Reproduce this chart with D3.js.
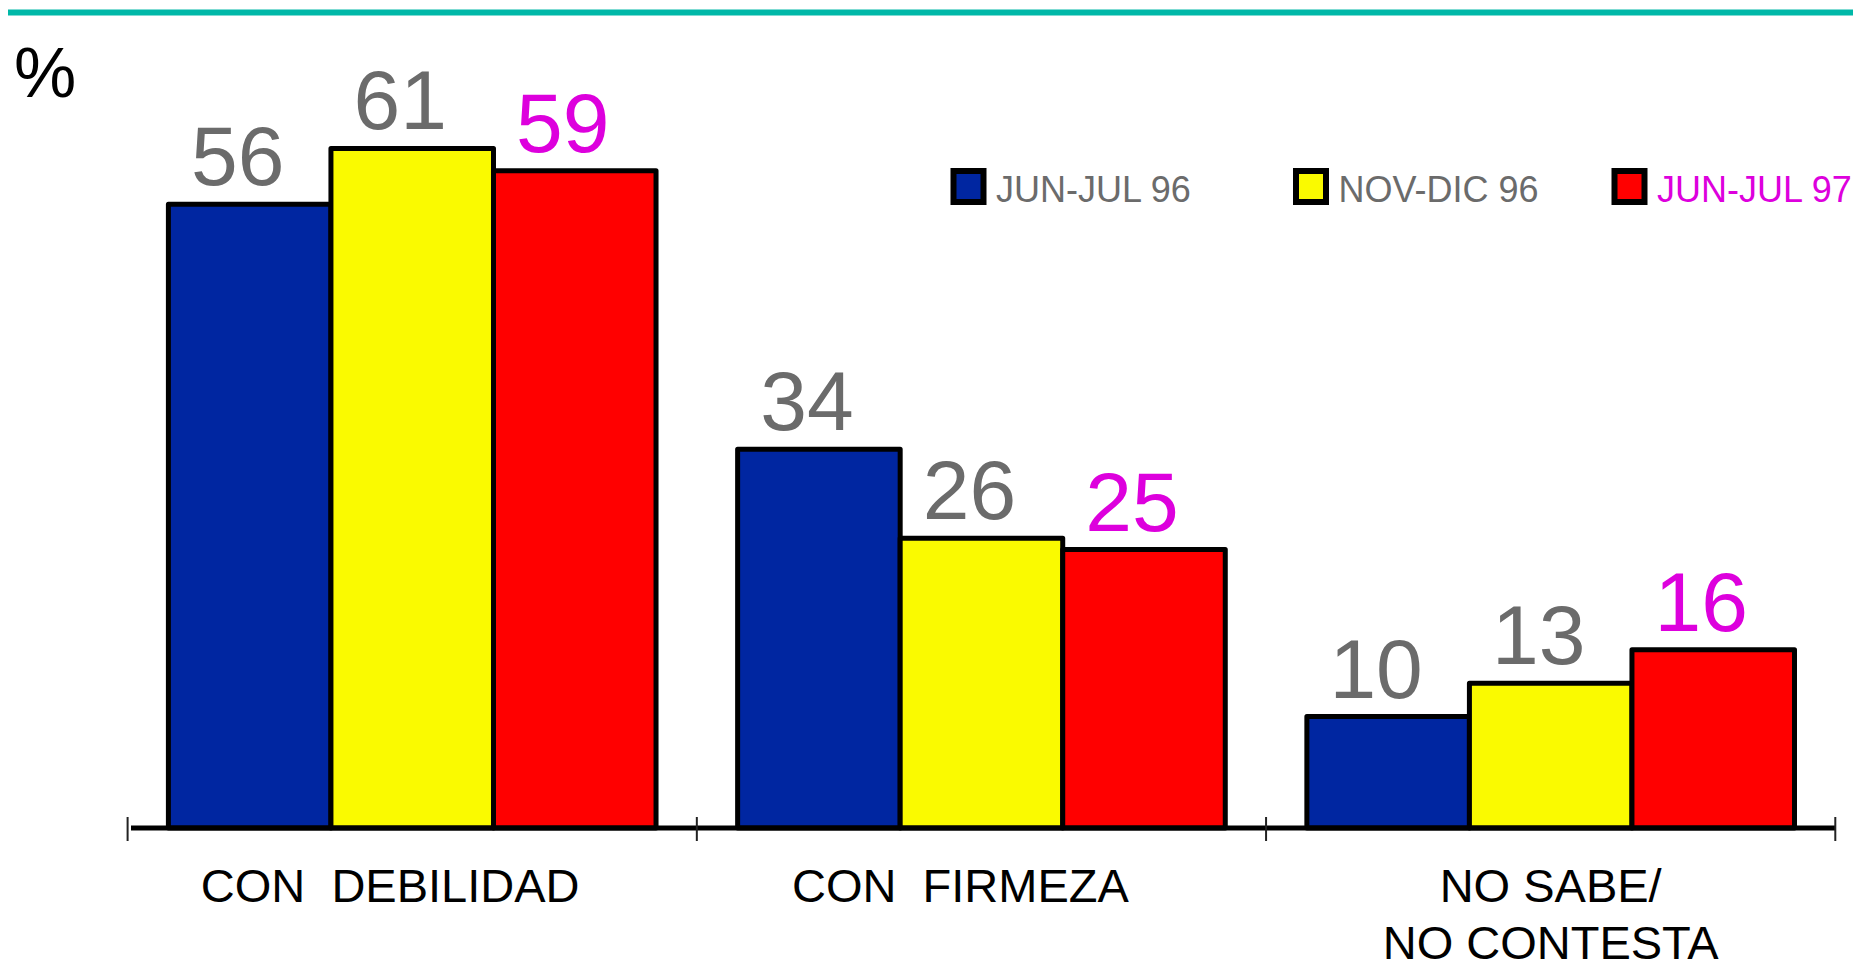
<!DOCTYPE html>
<html>
<head>
<meta charset="utf-8">
<script src="https://cdn.jsdelivr.net/npm/d3@7"></script>
<style>
  html, body { margin: 0; padding: 0; background: #ffffff; }
  svg { display: block; font-family: "Liberation Sans", Arial, sans-serif; }
</style>
</head>
<body>
<svg id="chart" width="1853" height="962"></svg>
<script>
// ---- data ----
const categories = ["CON  DEBILIDAD", "CON  FIRMEZA", "NO SABE/\nNO CONTESTA"];
const seriesNames = ["JUN-JUL 96", "NOV-DIC 96", "JUN-JUL 97"];
const junJul96 = [56, 34, 10];
const novDic96 = [61, 26, 13];
const junJul97 = [59, 25, 16];
const yLabel = "%";

// ---- styles ----
const fillColors = ["#0026A1", "#FAFA00", "#FF0000"];
const labelColors = ["#6B6B6B", "#6B6B6B", "#DD00DD"];
const seriesValues = [junJul96, novDic96, junJul97];

const svg = d3.select("#chart");
const W = 1853, H = 962;

// top teal rule
svg.append("rect").attr("x", 8).attr("y", 9.5).attr("width", W - 8).attr("height", 6).attr("fill", "#00B8A8");

// scales
const x0 = d3.scaleBand().domain(d3.range(categories.length)).range([127.6, 1835.3]).paddingInner(0).paddingOuter(0);
const x1 = d3.scaleBand().domain(d3.range(seriesNames.length)).range([0, x0.bandwidth()]).paddingInner(0).paddingOuter(0.251);
const y = d3.scaleLinear().domain([0, 70]).range([828, 828 - 11.14 * 70]);

// bars
const rows = [];
categories.forEach((c, ci) => {
  seriesNames.forEach((s, si) => {
    rows.push({ ci, si, v: seriesValues[si][ci] });
  });
});

const g = svg.append("g");
g.selectAll("rect.bar").data(rows).join("rect")
  .attr("class", "bar")
  .attr("x", d => x0(d.ci) + x1(d.si))
  .attr("y", d => y(d.v))
  .attr("width", x1.bandwidth())
  .attr("height", d => y(0) - y(d.v))
  .attr("fill", d => fillColors[d.si])
  .attr("stroke", "#000")
  .attr("stroke-width", 5)
  .attr("stroke-linejoin", "round");

// value labels
g.selectAll("text.val").data(rows).join("text")
  .attr("class", "val")
  .attr("x", d => x0(d.ci) + x1(d.si) + x1.bandwidth() / 2 - 12)
  .attr("y", d => y(d.v) - 19)
  .attr("text-anchor", "middle")
  .attr("font-size", 84)
  .attr("fill", d => labelColors[d.si])
  .text(d => d.v);

// x axis line
svg.append("line").attr("x1", 131).attr("x2", x0.range()[1]).attr("y1", 828).attr("y2", 828)
  .attr("stroke", "#000").attr("stroke-width", 5);
// ticks at band boundaries
const tickPos = d3.range(categories.length).map(i => x0(i)).concat([x0.range()[1]]);
svg.selectAll("line.tick").data(tickPos).join("line")
  .attr("class", "tick")
  .attr("x1", d => d).attr("x2", d => d)
  .attr("y1", 817).attr("y2", 841)
  .attr("stroke", "#222").attr("stroke-width", 2);

// category labels
const labelShift = [-22, -21, 0];
categories.forEach((c, ci) => {
  const lines = c.split("\n");
  const t = svg.append("text")
    .attr("text-anchor", "middle")
    .attr("font-size", 47)
    .attr("fill", "#000")
    .attr("xml:space", "preserve")
    .style("white-space", "pre");
  lines.forEach((ln, li) => {
    t.append("tspan")
      .attr("x", x0(ci) + x0.bandwidth() / 2 + labelShift[ci])
      .attr("y", 902 + li * 56.5)
      .text(ln);
  });
});

// y label
svg.append("text").attr("x", 14).attr("y", 97).attr("font-size", 70).attr("fill", "#000").text(yLabel);

// legend
const legendX = [953.5, 1296, 1614.5];
const lg = svg.selectAll("g.leg").data(seriesNames).join("g").attr("class", "leg")
  .attr("transform", (d, i) => `translate(${legendX[i]},171)`);
lg.append("rect").attr("x", 0).attr("y", 0).attr("width", 30).attr("height", 31)
  .attr("fill", (d, i) => fillColors[i]).attr("stroke", "#000").attr("stroke-width", 6);
lg.append("text").attr("x", 42.5).attr("y", 30.5).attr("font-size", 36)
  .attr("fill", (d, i) => labelColors[i]).text(d => d);
</script>
</body>
</html>
